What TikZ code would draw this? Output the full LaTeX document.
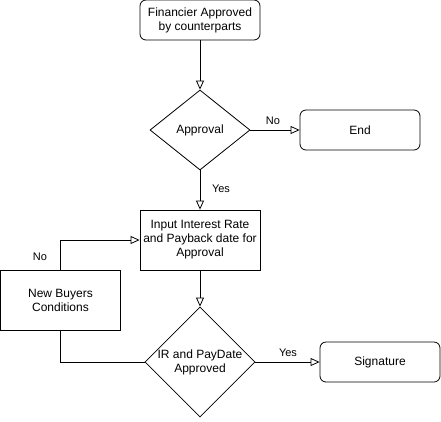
\documentclass[tikz,border=0pt]{standalone}
\usepackage{fontspec}
\setmainfont{Liberation Sans}
\usetikzlibrary{shapes.geometric,arrows.meta}

\tikzset{
  endpoint/.style={draw, rounded corners=6pt, minimum width=120pt, minimum height=40pt,
    align=center, inner sep=0pt, font=\fontsize{12}{14}\selectfont},
  process/.style={draw, minimum width=120pt, minimum height=60pt,
    align=center, inner sep=0pt, font=\fontsize{12}{14}\selectfont},
  decision/.style={draw, diamond, inner sep=0pt},
  flow/.style={-{Triangle[open,length=9pt,width=8pt]}},
  edgelabel/.style={font=\fontsize{11}{13}\selectfont, inner sep=1pt}
}

\begin{document}
\begin{tikzpicture}[x=1pt, y=-1pt, line width=0.8pt]
	\useasboundingbox (0,0) rectangle (441,421);
	
	% boxes
	\node[endpoint] (fin) at (200,20) {Financier Approved\\by counterparts};
	\node[decision, minimum width=100pt, minimum height=80pt,
		label={[font=\fontsize{12}{14}\selectfont]center:Approval}] (appr) at (200,130) {};
	\node[endpoint] (endbox) at (360,130) {End};
	\node[process] (input) at (200,240) {Input Interest Rate\\and Payback date for\\Approval};
	\node[decision, minimum width=110pt, minimum height=110pt,
		label={[align=center, font=\fontsize{12}{14}\selectfont]center:IR and PayDate\\Approved}] (irdec) at (200,362) {};
	\node[endpoint] (sig) at (380,362) {Signature};
	\node[process] (buyers) at (60.5,300) {New Buyers\\Conditions};
	
	% connectors
	\draw[flow] (fin) -- (appr);
	\draw[flow] (appr) -- (endbox);
	\draw[flow] (appr) -- (input);
	\draw[flow] (input) -- (irdec);
	\draw[flow] (irdec) -- (sig);
	\draw (irdec.west) -| (buyers.south);
	\draw[flow] (buyers.north) |- (input.west);
	
	% labels
	\node[edgelabel] (lno1) at (273,121) {No};
	\node[edgelabel] (lyes1) at (221,189) {Yes};
	\node[edgelabel] (lyes2) at (288,353) {Yes};
	\node[edgelabel] (lno2) at (40,257) {No};
\end{tikzpicture}
\end{document}
